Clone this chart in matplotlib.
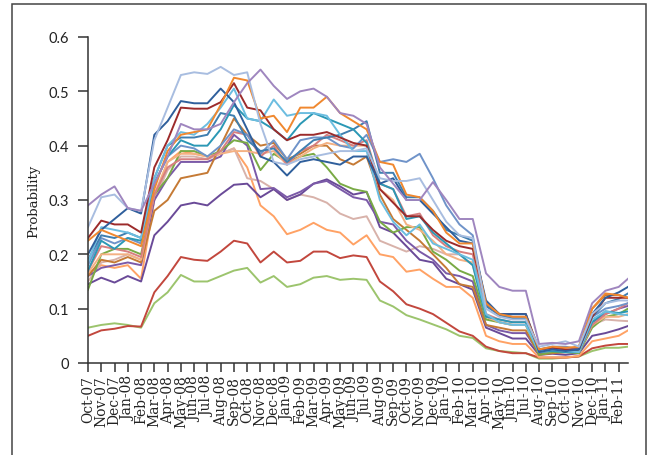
import matplotlib
matplotlib.use("Agg")
from matplotlib import pyplot as plt
from matplotlib.patches import Rectangle

months = ["Oct-07", "Nov-07", "Dec-07", "Jan-08", "Feb-08", "Mar-08", "Apr-08", "May-08",
          "Jun-08", "Jul-08", "Aug-08", "Sep-08", "Oct-08", "Nov-08", "Dec-08", "Jan-09",
          "Feb-09", "Mar-09", "Apr-09", "May-09", "Jun-09", "Jul-09", "Aug-09", "Sep-09",
          "Oct-09", "Nov-09", "Dec-09", "Jan-10", "Feb-10", "Mar-10", "Apr-10", "May-10",
          "Jun-10", "Jul-10", "Aug-10", "Sep-10", "Oct-10", "Nov-10", "Dec-10", "Jan-11",
          "Feb-11"]
# monthly positions plus the last (partial) observation
x = list(range(len(months))) + [40.7]

# one series per line
s_green = [0.065, 0.07, 0.073, 0.07, 0.065, 0.11, 0.13, 0.162, 0.15, 0.15, 0.16, 0.17, 0.175, 0.148,
           0.16, 0.14, 0.145, 0.157, 0.16, 0.153, 0.155, 0.153, 0.115, 0.104, 0.088, 0.08, 0.071,
           0.062, 0.05, 0.046, 0.027, 0.022, 0.02, 0.018, 0.008, 0.008, 0.01, 0.012, 0.022, 0.028,
           0.028, 0.03]
s_red = [0.05, 0.06, 0.063, 0.068, 0.067, 0.13, 0.16, 0.195, 0.19, 0.188, 0.205, 0.225, 0.22, 0.185,
         0.205, 0.185, 0.188, 0.205, 0.205, 0.193, 0.198, 0.195, 0.15, 0.132, 0.108, 0.1, 0.09,
         0.074, 0.058, 0.05, 0.03, 0.022, 0.018, 0.018, 0.01, 0.01, 0.01, 0.012, 0.027, 0.032,
         0.035, 0.035]
s_purple = [0.145, 0.157, 0.148, 0.16, 0.15, 0.235, 0.26, 0.29, 0.295, 0.29, 0.31, 0.328, 0.33, 0.305,
            0.32, 0.3, 0.31, 0.33, 0.338, 0.325, 0.31, 0.315, 0.25, 0.24, 0.215, 0.19, 0.185, 0.155,
            0.145, 0.135, 0.065, 0.055, 0.045, 0.045, 0.015, 0.017, 0.015, 0.018, 0.05, 0.055,
            0.062, 0.068]
s_lightorange = [0.165, 0.18, 0.175, 0.18, 0.155, 0.3, 0.37, 0.39, 0.385, 0.38, 0.385, 0.395, 0.36,
                 0.29, 0.27, 0.237, 0.245, 0.258, 0.245, 0.24, 0.218, 0.235, 0.2, 0.195, 0.168,
                 0.172, 0.155, 0.14, 0.14, 0.12, 0.05, 0.04, 0.035, 0.035, 0.01, 0.01, 0.01, 0.013,
                 0.04, 0.045, 0.05, 0.06]
s_rosybeige = [0.15, 0.185, 0.19, 0.2, 0.19, 0.3, 0.355, 0.38, 0.38, 0.375, 0.385, 0.395, 0.34, 0.335,
               0.32, 0.3, 0.31, 0.305, 0.295, 0.275, 0.265, 0.27, 0.225, 0.215, 0.205, 0.215, 0.21,
               0.2, 0.2, 0.18, 0.085, 0.075, 0.07, 0.07, 0.02, 0.025, 0.02, 0.02, 0.07, 0.08,
               0.078, 0.077]
s_purple2 = [0.16, 0.175, 0.18, 0.185, 0.18, 0.3, 0.34, 0.37, 0.37, 0.37, 0.38, 0.42, 0.4, 0.32,
             0.322, 0.305, 0.315, 0.33, 0.335, 0.32, 0.305, 0.3, 0.26, 0.255, 0.225, 0.205, 0.19,
             0.165, 0.16, 0.15, 0.07, 0.06, 0.055, 0.055, 0.018, 0.02, 0.02, 0.02, 0.075, 0.09,
             0.1, 0.105]
s_lavender = [0.29, 0.31, 0.325, 0.285, 0.28, 0.33, 0.38, 0.44, 0.43, 0.43, 0.44, 0.48, 0.515, 0.54,
              0.51, 0.486, 0.5, 0.505, 0.49, 0.46, 0.455, 0.44, 0.36, 0.33, 0.3, 0.3, 0.333, 0.3,
              0.265, 0.265, 0.165, 0.14, 0.133, 0.133, 0.035, 0.037, 0.035, 0.04, 0.11, 0.133,
              0.14, 0.155]
s_periwinkle = [0.25, 0.305, 0.31, 0.285, 0.28, 0.41, 0.47, 0.53, 0.535, 0.532, 0.545, 0.53, 0.535,
                0.44, 0.37, 0.365, 0.375, 0.38, 0.385, 0.39, 0.39, 0.395, 0.34, 0.335, 0.335, 0.34,
                0.3, 0.26, 0.235, 0.23, 0.1, 0.085, 0.08, 0.08, 0.03, 0.035, 0.04, 0.03, 0.09, 0.11,
                0.115, 0.115]
s_darkblue = [0.2, 0.245, 0.265, 0.285, 0.275, 0.42, 0.445, 0.482, 0.478, 0.478, 0.505, 0.48, 0.43,
              0.38, 0.37, 0.345, 0.37, 0.375, 0.37, 0.365, 0.38, 0.38, 0.33, 0.34, 0.3, 0.3, 0.275,
              0.25, 0.225, 0.22, 0.115, 0.09, 0.09, 0.09, 0.02, 0.025, 0.022, 0.025, 0.09, 0.12,
              0.13, 0.14]
s_darkred = [0.23, 0.262, 0.255, 0.255, 0.24, 0.36, 0.41, 0.47, 0.468, 0.468, 0.48, 0.515, 0.47,
             0.465, 0.43, 0.41, 0.42, 0.42, 0.425, 0.415, 0.405, 0.4, 0.32, 0.295, 0.27, 0.27, 0.245,
             0.225, 0.215, 0.21, 0.11, 0.09, 0.09, 0.09, 0.025, 0.028, 0.025, 0.025, 0.085, 0.12,
             0.12, 0.12]
s_orange = [0.225, 0.245, 0.235, 0.225, 0.215, 0.32, 0.39, 0.42, 0.425, 0.43, 0.475, 0.525, 0.52, 0.45,
            0.455, 0.425, 0.47, 0.47, 0.49, 0.46, 0.445, 0.43, 0.37, 0.365, 0.31, 0.305, 0.28, 0.24,
            0.22, 0.22, 0.11, 0.09, 0.085, 0.085, 0.025, 0.03, 0.028, 0.03, 0.1, 0.128, 0.125, 0.12]
s_sky = [0.185, 0.25, 0.245, 0.24, 0.23, 0.34, 0.4, 0.425, 0.42, 0.44, 0.47, 0.505, 0.45, 0.445, 0.485,
         0.455, 0.46, 0.46, 0.455, 0.42, 0.39, 0.39, 0.3, 0.26, 0.235, 0.255, 0.22, 0.21, 0.2, 0.19,
         0.09, 0.075, 0.07, 0.07, 0.02, 0.025, 0.022, 0.02, 0.08, 0.095, 0.09, 0.088]
s_teal = [0.17, 0.225, 0.21, 0.23, 0.225, 0.33, 0.38, 0.41, 0.4, 0.4, 0.43, 0.475, 0.45, 0.445, 0.43,
          0.41, 0.44, 0.46, 0.45, 0.44, 0.43, 0.405, 0.33, 0.32, 0.265, 0.27, 0.24, 0.22, 0.2, 0.18,
          0.085, 0.08, 0.075, 0.075, 0.02, 0.022, 0.02, 0.02, 0.075, 0.095, 0.092, 0.095]
s_midblue = [0.18, 0.23, 0.22, 0.23, 0.22, 0.33, 0.38, 0.4, 0.395, 0.38, 0.4, 0.43, 0.42, 0.385, 0.41,
             0.375, 0.41, 0.415, 0.415, 0.4, 0.395, 0.42, 0.37, 0.375, 0.37, 0.385, 0.34, 0.29, 0.255,
             0.235, 0.105, 0.09, 0.085, 0.085, 0.025, 0.03, 0.03, 0.025, 0.085, 0.1, 0.105, 0.11]
s_steel = [0.19, 0.235, 0.23, 0.24, 0.23, 0.34, 0.4, 0.415, 0.415, 0.42, 0.46, 0.455, 0.41, 0.39, 0.395,
           0.37, 0.39, 0.41, 0.415, 0.42, 0.43, 0.445, 0.35, 0.35, 0.305, 0.305, 0.28, 0.245, 0.235,
           0.225, 0.105, 0.088, 0.082, 0.082, 0.022, 0.026, 0.024, 0.022, 0.085, 0.11, 0.118, 0.128]
s_rose = [0.17, 0.215, 0.21, 0.205, 0.195, 0.31, 0.36, 0.375, 0.375, 0.375, 0.39, 0.425, 0.42, 0.38,
          0.4, 0.365, 0.39, 0.4, 0.42, 0.41, 0.4, 0.41, 0.33, 0.32, 0.27, 0.275, 0.235, 0.215, 0.205,
          0.2, 0.09, 0.08, 0.075, 0.075, 0.02, 0.025, 0.025, 0.02, 0.07, 0.09, 0.1, 0.11]
s_olive = [0.135, 0.2, 0.21, 0.21, 0.2, 0.31, 0.34, 0.39, 0.39, 0.38, 0.39, 0.41, 0.405, 0.355, 0.385,
           0.37, 0.38, 0.385, 0.36, 0.33, 0.32, 0.315, 0.26, 0.24, 0.25, 0.25, 0.205, 0.19, 0.17, 0.16,
           0.08, 0.075, 0.07, 0.07, 0.015, 0.02, 0.02, 0.018, 0.065, 0.085, 0.09, 0.1]
s_brown = [0.16, 0.19, 0.185, 0.195, 0.185, 0.28, 0.3, 0.34, 0.345, 0.35, 0.4, 0.45, 0.42, 0.4, 0.405,
           0.375, 0.385, 0.4, 0.4, 0.375, 0.365, 0.38, 0.31, 0.265, 0.245, 0.225, 0.2, 0.175, 0.145,
           0.14, 0.07, 0.065, 0.06, 0.06, 0.015, 0.018, 0.02, 0.03, 0.1, 0.125, 0.125, 0.12]
s_peach = [0.165, 0.2, 0.2, 0.2, 0.19, 0.31, 0.37, 0.385, 0.385, 0.38, 0.385, 0.39, 0.39, 0.385, 0.39,
           0.365, 0.38, 0.395, 0.405, 0.4, 0.4, 0.4, 0.32, 0.3, 0.255, 0.245, 0.225, 0.2, 0.19, 0.185,
           0.085, 0.075, 0.07, 0.07, 0.02, 0.022, 0.022, 0.02, 0.07, 0.085, 0.085, 0.09]

series = [
    (s_green, "#9cc46d"), (s_red, "#c2473d"), (s_lightorange, "#ffa265"),
    (s_rosybeige, "#d8b2aa"), (s_purple, "#6a4a98"), (s_purple2, "#7b5aa8"),
    (s_brown, "#c57a35"), (s_olive, "#79aa45"), (s_peach, "#f4b183"),
    (s_rose, "#d77f7f"), (s_midblue, "#6f93c9"), (s_steel, "#3f7fb0"),
    (s_teal, "#2b98b5"), (s_sky, "#6cbde0"), (s_darkred, "#9c2b2b"),
    (s_darkblue, "#2f5f9c"), (s_orange, "#f0882f"), (s_periwinkle, "#a8bde0"),
    (s_lavender, "#9f86bf"),
]

fig = plt.figure(figsize=(6.48, 4.56), dpi=100)
ax = fig.add_axes([0.1358, 0.2018, 0.8333, 0.7149])

for vals, col in series:
    ax.plot(x, vals, color=col, lw=1.4, solid_joinstyle="round")

ax.set_xlim(0, 40.7)
ax.set_ylim(0, 0.6)
ax.set_xticks(range(len(months)))
ax.set_xticklabels(months, rotation=90, family="DejaVu Serif", fontsize=10, color="#222222")
ax.set_yticks([0, 0.1, 0.2, 0.3, 0.4, 0.5, 0.6])
ax.set_yticklabels(["0", "0.1", "0.2", "0.3", "0.4", "0.5", "0.6"], family="Lato", fontsize=10.5,
                   color="#222222")
ax.tick_params(axis="y", length=7.5, width=1.1, color="#333333", pad=6)
ax.tick_params(axis="x", length=6.5, width=1.1, color="#333333", pad=2)
for side in ("top", "right"):
    ax.spines[side].set_visible(False)
for side in ("left", "bottom"):
    ax.spines[side].set_color("#333333")
    ax.spines[side].set_linewidth(1.1)
ax.set_ylabel("Probability", family="DejaVu Serif", fontsize=9.5, color="#222222")
ax.yaxis.set_label_coords(-0.088, 0.5)

# outer frame of the figure
fig.patches.append(Rectangle((0.0185, -0.05), 0.978, 1.039, transform=fig.transFigure,
                             fill=False, edgecolor="#444444", lw=1.1))

fig.savefig("out.png", dpi=100)
